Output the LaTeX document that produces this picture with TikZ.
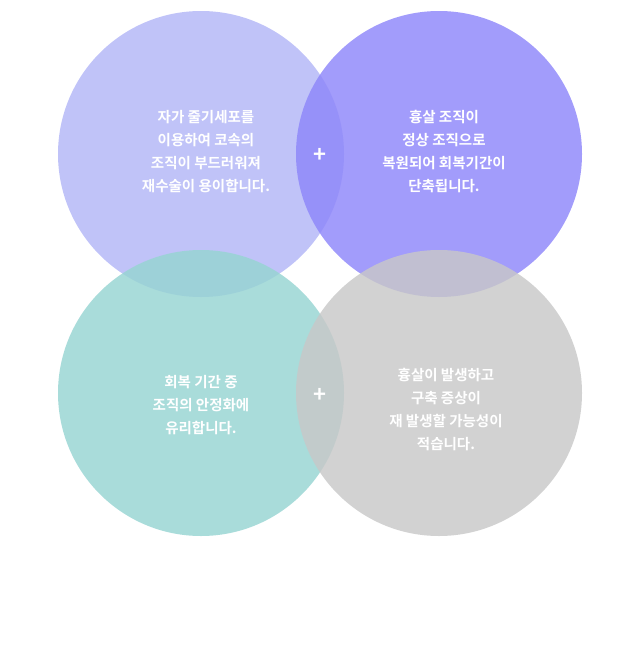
\documentclass[tikz,border=0pt]{standalone}
\usepackage{fontspec}
\newfontfamily\kr{Noto Sans CJK KR}[BoldFont={* Bold}]
\begin{document}
\begin{tikzpicture}[x=1pt,y=-1pt,
  circ/.style={circle,minimum size=286pt,inner sep=0pt,fill opacity=0.82},
  txt/.style={text=white,align=center,font=\kr\bfseries\fontsize{14.5}{23}\selectfont},
  plus/.style={text=white,font=\kr\bfseries\fontsize{22}{22}\selectfont}]
\useasboundingbox (0,0) rectangle (640,645);
\definecolor{ctl}{RGB}{178,182,246}
\definecolor{ctr}{RGB}{142,134,250}
\definecolor{cbl}{RGB}{150,212,210}
\definecolor{cbr}{RGB}{200,200,200}
\node[circ,fill=ctl] (tl) at (201,154) {};
\node[circ,fill=ctr] (tr) at (439,154) {};
\node[circ,fill=cbl] (bl) at (201,393) {};
\node[circ,fill=cbr] (br) at (439,393) {};
\node[txt] (ttl) at (206,152) {자가 줄기세포를\\이용하여 코속의\\조직이 부드러워져\\재수술이 용이합니다.};
\node[txt] (ttr) at (444,152) {흉살 조직이\\정상 조직으로\\복원되어 회복기간이\\단축됩니다.};
\node[txt] (tbl) at (201,405) {회복 기간 중\\조직의 안정화에\\유리합니다.};
\node[txt] (tbr) at (446,410) {흉살이 발생하고\\구축 증상이\\재 발생할 가능성이\\적습니다.};
\node[plus] (p1) at (320,155) {+};
\node[plus] (p2) at (320,395) {+};
\end{tikzpicture}
\end{document}
